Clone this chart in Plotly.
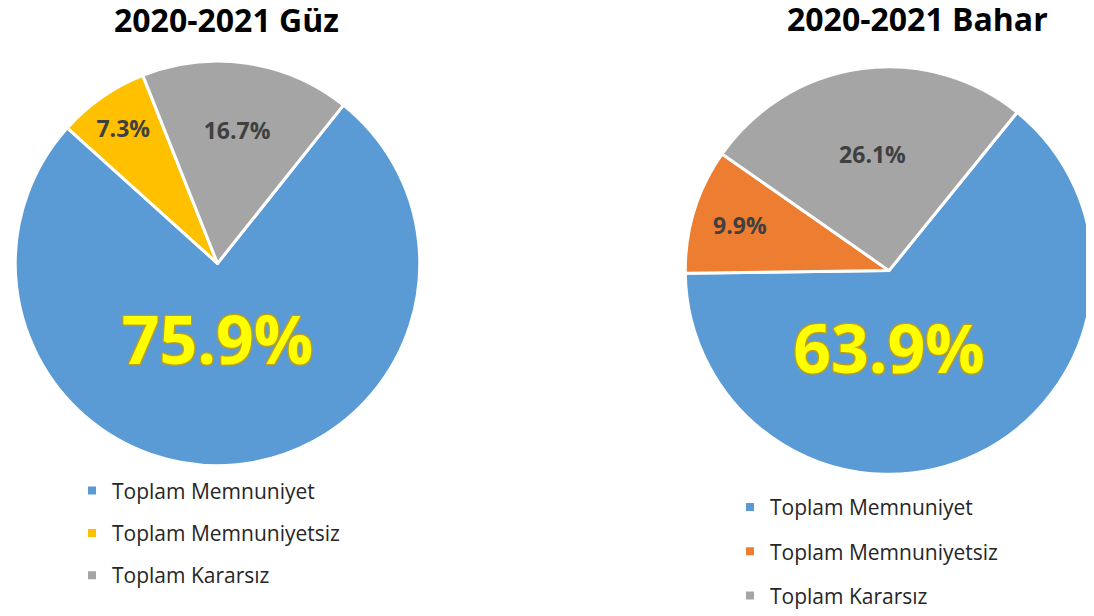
import plotly.graph_objects as go

# ---- data ----
categories = ["Toplam Memnuniyet", "Toplam Memnuniyetsiz", "Toplam Kararsız"]
guz_values = [75.9, 7.3, 16.7]
bahar_values = [63.9, 9.9, 26.1]
guz_title = "2020-2021 Güz"
bahar_title = "2020-2021 Bahar"

# ---- style ----
guz_colors = ["#5B9BD5", "#FFC000", "#A5A5A5"]
bahar_colors = ["#5B9BD5", "#ED7D31", "#A5A5A5"]
FONT = "Open Sans"
# the page body has an 8px margin, so the figure is drawn 8px in from the window corner;
# the right pie runs slightly past the window edge, as in the reference
W, H = 1092, 608

big_shadow = ("1px 1px 1px #C9A000, -1px -1px 1px #C9A000, "
              "1px -1px 1px #C9A000, -1px 1px 1px #C9A000")


def text_font():
    return dict(
        family=FONT,
        size=[66, 23, 23],
        color=["#FFFF00", "#404040", "#404040"],
        weight="bold",
        shadow=[big_shadow, "none", "none"],
    )


def px_domain(x0, x1, y0, y1):
    return dict(x=[x0 / W, x1 / W], y=[1 - y1 / H, 1 - y0 / H])


fig = go.Figure()

fig.add_trace(go.Pie(
    labels=categories, values=guz_values, sort=False, direction="clockwise",
    rotation=38.5, marker=dict(colors=guz_colors, line=dict(color="white", width=3)),
    texttemplate="%{value:.1f}%", textposition="inside",
    insidetextorientation="horizontal", insidetextfont=text_font(),
    domain=px_domain(0, 419, 55, 474),
    showlegend=False, hoverinfo="label+value",
))

fig.add_trace(go.Pie(
    labels=categories, values=bahar_values, sort=False, direction="clockwise",
    rotation=39, marker=dict(colors=bahar_colors, line=dict(color="white", width=3)),
    texttemplate="%{value:.1f}%", textposition="inside",
    insidetextorientation="horizontal", insidetextfont=text_font(),
    domain=px_domain(670, 1092, 61, 483),
    showlegend=False, hoverinfo="label+value",
))

# legend entries (one per category, per pie)
for i, cat in enumerate(categories):
    fig.add_trace(go.Scatter(
        x=[None], y=[None], mode="markers", name=cat,
        marker=dict(symbol="square", size=8, color=guz_colors[i]),
        legend="legend", legendgroup="g%d" % i, showlegend=True,
    ))
for i, cat in enumerate(categories):
    fig.add_trace(go.Scatter(
        x=[None], y=[None], mode="markers", name=cat,
        marker=dict(symbol="square", size=8, color=bahar_colors[i]),
        legend="legend2", legendgroup="b%d" % i, showlegend=True,
    ))

legend_common = dict(
    font=dict(family=FONT, size=21, color="#262626"),
    bgcolor="rgba(0,0,0,0)", traceorder="grouped",
    xanchor="left", yanchor="top", itemclick=False, itemdoubleclick=False,
)

fig.update_layout(
    width=W, height=H,
    margin=dict(l=0, r=0, t=0, b=0),
    paper_bgcolor="white", plot_bgcolor="rgba(0,0,0,0)",
    xaxis=dict(visible=False), yaxis=dict(visible=False),
    legend=dict(x=64 / W, y=1 - 479 / H, tracegroupgap=12, **legend_common),
    legend2=dict(x=722 / W, y=1 - 496 / H, tracegroupgap=14, **legend_common),
    annotations=[
        dict(text="<b>%s</b>" % guz_title, x=218 / W, y=1 - 12 / H,
             xref="paper", yref="paper", xanchor="center", yanchor="middle",
             showarrow=False, font=dict(family=FONT, size=32, color="black")),
        dict(text="<b>%s</b>" % bahar_title, x=909 / W, y=1 - 11 / H,
             xref="paper", yref="paper", xanchor="center", yanchor="middle",
             showarrow=False, font=dict(family=FONT, size=32, color="black")),
    ],
)

fig.write_html("out.html")
